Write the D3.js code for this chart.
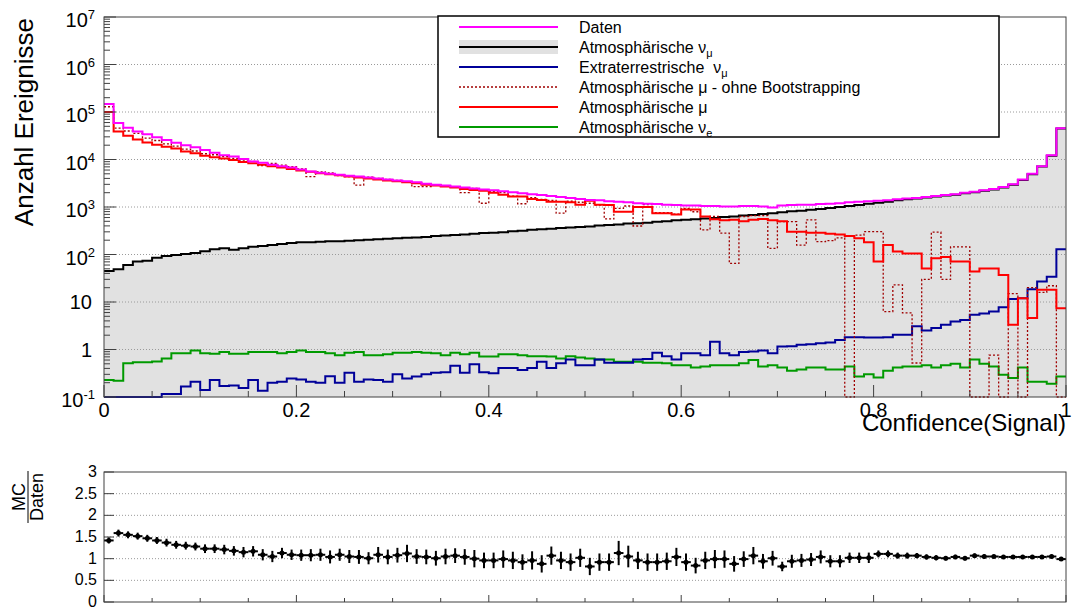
<!DOCTYPE html>
<html>
<head>
<meta charset="utf-8">
<script src="https://cdn.jsdelivr.net/npm/d3@7"></script>
<style>
  html, body { margin: 0; padding: 0; background: #fff; }
  svg { display: block; font-family: "Liberation Sans", Arial, Helvetica, sans-serif; }
</style>
</head>
<body>
<svg id="chart" width="1073" height="608"></svg>
<script>
// ─── Data: 100 bins of Confidence(Signal) in [0, 1] ──────────────────────────
const nBins = 100;

const daten = [
  148000, 58900, 46800, 38900, 33900, 29500, 25700, 22400, 20000, 18200,
  15800, 13800, 12300, 11500, 10200, 9120, 8510, 7760, 7240, 6760,
  6170, 5620, 5250, 5010, 4790, 4570, 4370, 4170, 3980, 3800,
  3630, 3470, 3310, 3090, 2950, 2820, 2690, 2570, 2450, 2340,
  2240, 2140, 2040, 1950, 1860, 1780, 1700, 1620, 1550, 1480,
  1410, 1380, 1320, 1290, 1260, 1200, 1170, 1150, 1120, 1100,
  1070, 1070, 1050, 1050, 1020, 1020, 1050, 1050, 1020, 977,
  1070, 1100, 1120, 1120, 1150, 1170, 1200, 1260, 1290, 1320,
  1350, 1380, 1450, 1510, 1550, 1620, 1700, 1780, 1860, 2000,
  2090, 2240, 2400, 2630, 3020, 3800, 5010, 7240, 12300, 45700
];

const atmNuMu = [
  45, 49, 60, 71, 74, 85, 93, 98, 102, 107,
  117, 129, 135, 126, 135, 145, 151, 158, 166, 174,
  182, 182, 186, 191, 191, 195, 200, 204, 209, 214,
  219, 224, 229, 234, 245, 251, 257, 263, 275, 282,
  288, 295, 309, 316, 331, 339, 347, 363, 372, 380,
  389, 407, 417, 427, 447, 457, 468, 490, 501, 525,
  537, 550, 575, 589, 617, 631, 661, 676, 708, 741,
  776, 813, 832, 871, 912, 955, 1000, 1050, 1100, 1170,
  1230, 1290, 1380, 1450, 1510, 1580, 1660, 1740, 1820, 1950,
  2040, 2190, 2340, 2570, 2950, 3720, 4900, 7080, 12000, 44700
];

const extraNuMu = [
  0.1, 0.1, 0.1, 0.1, 0.1, 0.1, 0.115, 0.115, 0.166, 0.209,
  0.141, 0.229, 0.170, 0.174, 0.155, 0.229, 0.135, 0.200, 0.209, 0.245,
  0.234, 0.209, 0.200, 0.275, 0.200, 0.324, 0.209, 0.234, 0.229, 0.209,
  0.302, 0.245, 0.269, 0.302, 0.324, 0.331, 0.457, 0.324, 0.490, 0.331,
  0.316, 0.407, 0.407, 0.372, 0.407, 0.550, 0.407, 0.513, 0.617, 0.468,
  0.468, 0.617, 0.525, 0.525, 0.525, 0.617, 0.631, 0.851, 0.724, 0.617,
  0.832, 0.832, 0.759, 1.45, 0.832, 0.759, 0.891, 0.912, 0.955, 0.832,
  1.15, 1.17, 1.26, 1.29, 1.35, 1.41, 1.58, 1.82, 1.82, 1.78,
  1.78, 1.82, 2.04, 2.04, 3.09, 2.51, 2.82, 3.31, 3.89, 4.17,
  5.37, 5.75, 6.31, 7.76, 11.5, 12.0, 18.6, 26.9, 33.9, 129
];

// atmospheric muons without bootstrapping (0 = empty bin)
const atmMuRaw = [
  129000, 45700, 39800, 35500, 28200, 25100, 21400, 19100, 16600, 15100,
  13200, 12600, 11500, 10500, 9770, 9120, 7410, 8320, 7590, 7080,
  6310, 4370, 5500, 5250, 4570, 4370, 2880, 4270, 3980, 3800,
  3630, 3390, 2690, 2690, 2950, 2820, 2630, 2000, 2450, 1200,
  2140, 2000, 1700, 1170, 1580, 1450, 1380, 741, 1320, 1260,
  1200, 1100, 562, 933, 1050, 398, 1120, 759, 759, 708,
  933, 794, 331, 631, 282, 65, 631, 661, 661, 135,
  490, 490, 158, 537, 186, 195, 224, 0, 257, 302,
  302, 6.3, 23, 5.9, 0.52, 30, 295, 30, 145, 145,
  0, 0, 0.76, 0, 15, 0, 20, 16, 22, 0
];

const atmMu = [
  100000, 38900, 31600, 26300, 22900, 20400, 18600, 17000, 14800, 13500,
  12000, 11200, 10500, 9770, 8910, 8320, 7760, 7240, 6760, 6310,
  5890, 5500, 5130, 4900, 4680, 4370, 4170, 3980, 3800, 3630,
  3470, 3310, 3160, 2950, 2820, 2690, 2570, 2400, 2290, 2190,
  2000, 1820, 1660, 1660, 1480, 1410, 1290, 1290, 1260, 1120,
  1350, 1120, 1100, 794, 794, 1000, 1000, 741, 741, 692,
  891, 891, 631, 550, 525, 537, 501, 537, 562, 525,
  501, 302, 302, 288, 288, 275, 263, 245, 219, 182,
  71, 158, 115, 105, 105, 51, 83, 89, 71, 71,
  44, 51, 51, 37, 3.3, 12, 4.6, 18, 18, 7.4
];

const atmNuE = [
  0.229, 0.219, 0.513, 0.537, 0.537, 0.562, 0.646, 0.832, 0.832, 0.955,
  0.832, 0.813, 0.891, 0.813, 0.813, 0.891, 0.891, 0.891, 0.832, 0.891,
  0.955, 0.891, 0.891, 0.832, 0.759, 0.851, 0.891, 0.759, 0.759, 0.794,
  0.851, 0.851, 0.891, 0.851, 0.832, 0.759, 0.851, 0.794, 0.851, 0.708,
  0.708, 0.794, 0.794, 0.759, 0.724, 0.724, 0.708, 0.646, 0.724, 0.676,
  0.646, 0.617, 0.617, 0.550, 0.550, 0.550, 0.525, 0.525, 0.513, 0.468,
  0.468, 0.417, 0.437, 0.468, 0.468, 0.468, 0.513, 0.603, 0.437, 0.468,
  0.417, 0.355, 0.380, 0.417, 0.417, 0.380, 0.380, 0.437, 0.269, 0.302,
  0.257, 0.355, 0.417, 0.437, 0.437, 0.468, 0.417, 0.468, 0.501, 0.417,
  0.617, 0.501, 0.437, 0.295, 0.251, 0.417, 0.209, 0.209, 0.191, 0.269
];

// MC / Daten with its error
const ratio = [
  1.42, 1.59, 1.55, 1.52, 1.47, 1.42, 1.37, 1.32, 1.30, 1.28,
  1.23, 1.23, 1.21, 1.18, 1.15, 1.17, 1.09, 1.05, 1.13, 1.09,
  1.08, 1.08, 1.09, 1.04, 1.09, 1.05, 1.04, 1.01, 1.09, 1.04,
  1.08, 1.12, 1.05, 1.04, 1.01, 1.05, 1.07, 1.04, 1.00, 0.96,
  0.96, 0.99, 0.96, 0.92, 0.96, 0.88, 1.07, 0.96, 0.92, 1.02,
  0.82, 0.92, 0.92, 1.13, 1.05, 0.96, 0.92, 0.92, 0.94, 1.04,
  0.92, 0.84, 0.96, 0.99, 0.99, 0.88, 0.99, 1.07, 0.94, 1.01,
  0.82, 0.94, 0.96, 0.98, 1.04, 0.94, 0.94, 1.02, 1.02, 1.02,
  1.11, 1.11, 1.07, 1.07, 1.07, 1.04, 1.02, 1.01, 1.04, 1.01,
  1.07, 1.05, 1.05, 1.04, 1.04, 1.04, 1.04, 1.04, 1.05, 0.99
];
const ratioErr = [
  0.07, 0.08, 0.08, 0.08, 0.08, 0.08, 0.09, 0.09, 0.09, 0.09,
  0.10, 0.10, 0.11, 0.11, 0.12, 0.12, 0.13, 0.13, 0.12, 0.12,
  0.13, 0.14, 0.14, 0.15, 0.14, 0.15, 0.16, 0.14, 0.18, 0.17,
  0.17, 0.20, 0.17, 0.17, 0.17, 0.18, 0.17, 0.18, 0.20, 0.18,
  0.18, 0.20, 0.20, 0.18, 0.21, 0.20, 0.21, 0.20, 0.20, 0.21,
  0.20, 0.20, 0.20, 0.28, 0.25, 0.20, 0.20, 0.20, 0.20, 0.21,
  0.20, 0.18, 0.20, 0.21, 0.20, 0.18, 0.18, 0.20, 0.17, 0.17,
  0.11, 0.15, 0.15, 0.15, 0.15, 0.14, 0.14, 0.12, 0.12, 0.12,
  0.08, 0.08, 0.07, 0.07, 0.06, 0.06, 0.06, 0.05, 0.05, 0.05,
  0.05, 0.05, 0.04, 0.04, 0.04, 0.04, 0.04, 0.04, 0.04, 0.03
];

const xTickValues = [0, 0.2, 0.4, 0.6, 0.8, 1];
const xTickLabels = ['0', '0.2', '0.4', '0.6', '0.8', '1'];
const yDecades = [-1, 0, 1, 2, 3, 4, 5, 6, 7];
const ratioTickValues = [0, 0.5, 1, 1.5, 2, 2.5, 3];
const ratioTickLabels = ['0', '0.5', '1', '1.5', '2', '2.5', '3'];

// legend order as in the picture; "_" marks a subscript
const legendLabels = [
  'Daten',
  'Atmosphärische ν_μ',
  'Extraterrestrische  ν_μ',
  'Atmosphärische μ - ohne Bootstrapping',
  'Atmosphärische μ',
  'Atmosphärische ν_e'
];

// ─── Styles ──────────────────────────────────────────────────────────────────
const COL = {
  daten: '#ff00ff', nuMu: '#000000', extra: '#000099',
  muRaw: '#a00000', mu: '#ff0000', nuE: '#009a00', fill: '#e1e1e1'
};
const legendStyle = [
  { color: COL.daten },
  { color: COL.nuMu, fill: true },
  { color: COL.extra },
  { color: COL.muRaw, dash: '2,2', width: 1.3 },
  { color: COL.mu },
  { color: COL.nuE }
];

// ─── Layout ──────────────────────────────────────────────────────────────────
const FR = { left: 104, right: 1066, top: 17, bottom: 397 };   // main frame
const RF = { top: 472, bottom: 602 };                           // ratio frame

const svg = d3.select('#chart');
const x = d3.scaleLinear().domain([0, 1]).range([FR.left, FR.right]);
const y = d3.scaleLog().domain([0.1, 1e7]).range([FR.bottom, FR.top]);
const yr = d3.scaleLinear().domain([0, 3]).range([RF.bottom, RF.top]);

svg.append('defs').append('clipPath').attr('id', 'clipMain')
  .append('rect')
  .attr('x', FR.left).attr('y', FR.top - 1)
  .attr('width', FR.right - FR.left).attr('height', FR.bottom - FR.top + 2);

// empty bins sit on the lower edge of a log axis
const yc = v => y(Math.max(v, 0.1));

function stepPath(values) {
  let d = '';
  values.forEach((v, i) => {
    const x0 = x(i / nBins), x1 = x((i + 1) / nBins), yy = yc(v);
    d += (i === 0 ? 'M' : 'L') + x0 + ',' + yy + 'L' + x1 + ',' + yy;
  });
  return d;
}

// ─── Main pad ────────────────────────────────────────────────────────────────
const main = svg.append('g').attr('clip-path', 'url(#clipMain)');

// filled atmospheric numu
main.append('path')
  .attr('d', 'M' + x(0) + ',' + y(0.1) + stepPath(atmNuMu).replace(/^M/, 'L') + 'L' + x(1) + ',' + y(0.1) + 'Z')
  .attr('fill', COL.fill)
  .attr('stroke', 'none');

// horizontal grid
main.selectAll('.grid')
  .data(yDecades.slice(1, -1))
  .join('line')
  .attr('class', 'grid')
  .attr('x1', FR.left).attr('x2', FR.right)
  .attr('y1', d => y(Math.pow(10, d))).attr('y2', d => y(Math.pow(10, d)))
  .attr('stroke', '#9a9a9a').attr('stroke-width', 1).attr('stroke-dasharray', '1,2');

const lines = [
  { v: atmNuMu, c: COL.nuMu, w: 2 },
  { v: atmNuE, c: COL.nuE, w: 2 },
  { v: extraNuMu, c: COL.extra, w: 2 },
  { v: atmMuRaw, c: COL.muRaw, w: 1.3, dash: '2,2' },
  { v: atmMu, c: COL.mu, w: 2 },
  { v: daten, c: COL.daten, w: 2 }
];
lines.forEach(l => {
  main.append('path')
    .attr('d', stepPath(l.v))
    .attr('fill', 'none')
    .attr('stroke', l.c)
    .attr('stroke-width', l.w)
    .attr('stroke-dasharray', l.dash || null);
});

// x ticks (inward, ROOT style)
const axisCol = '#404040';
const xMinor = d3.range(0, 21).map(i => i * 0.05);
svg.append('g')
  .selectAll('line')
  .data(xMinor)
  .join('line')
  .attr('x1', d => x(d)).attr('x2', d => x(d))
  .attr('y1', FR.bottom)
  .attr('y2', (d, i) => FR.bottom - (i % 4 === 0 ? 12 : 6))
  .attr('stroke', axisCol).attr('stroke-width', 1);

svg.append('g')
  .selectAll('text')
  .data(xTickValues)
  .join('text')
  .attr('x', d => x(d)).attr('y', 417)
  .attr('text-anchor', 'middle')
  .attr('font-size', 20)
  .text((d, i) => xTickLabels[i]);

svg.append('text')
  .attr('x', FR.right).attr('y', 431)
  .attr('text-anchor', 'end')
  .attr('font-size', 24)
  .text('Confidence(Signal)');

// y ticks: decades + 2..9 minors
const yMinor = [];
yDecades.slice(0, -1).forEach(d => {
  for (let m = 2; m <= 9; m++) yMinor.push(m * Math.pow(10, d));
});
svg.append('g')
  .selectAll('line')
  .data(yMinor)
  .join('line')
  .attr('x1', FR.left).attr('x2', FR.left + 6)
  .attr('y1', d => y(d)).attr('y2', d => y(d))
  .attr('stroke', axisCol).attr('stroke-width', 1);
svg.append('g')
  .selectAll('line')
  .data(yDecades)
  .join('line')
  .attr('x1', FR.left).attr('x2', FR.left + 12)
  .attr('y1', d => y(Math.pow(10, d))).attr('y2', d => y(Math.pow(10, d)))
  .attr('stroke', axisCol).attr('stroke-width', 1);

// y labels: 10^n, with plain "1" and "10"
yDecades.forEach(d => {
  const yy = y(Math.pow(10, d));
  if (d === 0 || d === 1) {
    svg.append('text')
      .attr('x', 92).attr('y', yy + 7)
      .attr('text-anchor', 'end').attr('font-size', 20)
      .text(d === 0 ? '1' : '10');
  } else {
    const t = svg.append('text')
      .attr('x', 95).attr('y', yy + 10)
      .attr('text-anchor', 'end').attr('font-size', 20);
    t.append('tspan').text('10');
    t.append('tspan').attr('dy', -8).attr('font-size', 13).text(String(d));
  }
});

svg.append('text')
  .attr('transform', 'translate(33,18) rotate(-90)')
  .attr('text-anchor', 'end')
  .attr('font-size', 26)
  .text('Anzahl Ereignisse');

svg.append('rect')
  .attr('x', FR.left).attr('y', FR.top)
  .attr('width', FR.right - FR.left).attr('height', FR.bottom - FR.top)
  .attr('fill', 'none').attr('stroke', axisCol).attr('stroke-width', 1);

// ─── Legend ──────────────────────────────────────────────────────────────────
const leg = svg.append('g');
leg.append('rect')
  .attr('x', 438).attr('y', 16).attr('width', 561).attr('height', 121)
  .attr('fill', '#fff').attr('stroke', '#000').attr('stroke-width', 1.5);

legendLabels.forEach((lab, i) => {
  const st = legendStyle[i];
  const ly = 27 + i * 20;
  if (st.fill) {
    leg.append('rect')
      .attr('x', 459).attr('y', ly - 7).attr('width', 99).attr('height', 14)
      .attr('fill', COL.fill);
  }
  leg.append('line')
    .attr('x1', 459).attr('x2', 558).attr('y1', ly).attr('y2', ly)
    .attr('stroke', st.color)
    .attr('stroke-width', st.width || 2)
    .attr('stroke-dasharray', st.dash || null);

  const parts = lab.split('_');
  const t = leg.append('text')
    .attr('x', 579).attr('y', ly + 6)
    .attr('font-size', 16)
    .style('white-space', 'pre');
  t.append('tspan').text(parts[0]);
  if (parts[1]) t.append('tspan').attr('dy', 4).attr('font-size', 11).text(parts[1]);
});

// ─── Ratio pad ───────────────────────────────────────────────────────────────
const rp = svg.append('g');

rp.selectAll('.rgrid')
  .data(ratioTickValues.slice(1, -1))
  .join('line')
  .attr('class', 'rgrid')
  .attr('x1', FR.left).attr('x2', FR.right)
  .attr('y1', d => yr(d)).attr('y2', d => yr(d))
  .attr('stroke', '#9a9a9a').attr('stroke-width', 1).attr('stroke-dasharray', '1,2');

rp.selectAll('.rxt')
  .data(xMinor)
  .join('line')
  .attr('class', 'rxt')
  .attr('x1', d => x(d)).attr('x2', d => x(d))
  .attr('y1', RF.bottom)
  .attr('y2', (d, i) => RF.bottom - (i % 4 === 0 ? 7 : 4))
  .attr('stroke', axisCol);

rp.selectAll('.ryt')
  .data(ratioTickValues)
  .join('line')
  .attr('class', 'ryt')
  .attr('x1', FR.left).attr('x2', FR.left + 10)
  .attr('y1', d => yr(d)).attr('y2', d => yr(d))
  .attr('stroke', axisCol);

rp.selectAll('.rylab')
  .data(ratioTickValues)
  .join('text')
  .attr('class', 'rylab')
  .attr('x', 97).attr('y', d => yr(d) + 5)
  .attr('text-anchor', 'end').attr('font-size', 16)
  .text((d, i) => ratioTickLabels[i]);

const pts = rp.selectAll('.pt')
  .data(ratio.map((v, i) => ({ v, e: ratioErr[i], i })))
  .join('g')
  .attr('class', 'pt');
pts.append('line')
  .attr('x1', d => x(d.i / nBins)).attr('x2', d => x((d.i + 1) / nBins))
  .attr('y1', d => yr(d.v)).attr('y2', d => yr(d.v))
  .attr('stroke', '#000').attr('stroke-width', 2);
pts.append('line')
  .attr('x1', d => x((d.i + 0.5) / nBins)).attr('x2', d => x((d.i + 0.5) / nBins))
  .attr('y1', d => yr(d.v - d.e)).attr('y2', d => yr(d.v + d.e))
  .attr('stroke', '#000').attr('stroke-width', 2);
pts.append('circle')
  .attr('cx', d => x((d.i + 0.5) / nBins)).attr('cy', d => yr(d.v))
  .attr('r', 2.5).attr('fill', '#000');

rp.append('rect')
  .attr('x', FR.left).attr('y', RF.top)
  .attr('width', FR.right - FR.left).attr('height', RF.bottom - RF.top)
  .attr('fill', 'none').attr('stroke', axisCol).attr('stroke-width', 1);

// y title as a fraction MC / Daten
const frac = svg.append('g').attr('transform', 'translate(28,497) rotate(-90)');
frac.append('text').attr('x', 0).attr('y', -3)
  .attr('text-anchor', 'middle').attr('font-size', 18).text('MC');
frac.append('line').attr('x1', -26).attr('x2', 26).attr('y1', 0).attr('y2', 0)
  .attr('stroke', '#000').attr('stroke-width', 1);
frac.append('text').attr('x', 0).attr('y', 15)
  .attr('text-anchor', 'middle').attr('font-size', 18).text('Daten');
</script>
</body>
</html>
